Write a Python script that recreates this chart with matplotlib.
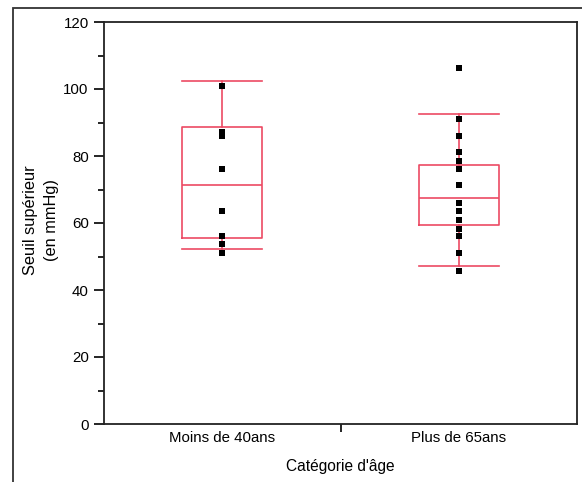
import matplotlib
matplotlib.use("Agg")
import matplotlib.pyplot as plt
from matplotlib.patches import Rectangle
from matplotlib.ticker import MultipleLocator, FixedLocator

plt.rcParams['font.family'] = ['Liberation Sans', 'DejaVu Sans']

categories = ["Moins de 40ans", "Plus de 65ans"]

# individual measurements (mmHg)
moins_40 = [101.0, 87.2, 86.0, 76.2, 63.6, 56.2, 53.6, 51.1]
plus_65 = [106.4, 91.0, 86.0, 81.2, 78.5, 76.2, 71.3, 66.0, 63.6,
           60.9, 58.3, 56.2, 51.1, 45.8]

# box statistics: lower whisker, Q1, median, Q3, upper whisker
whislo = [52.3, 47.2]
q1 = [55.4, 59.4]
med = [71.3, 67.4]
q3 = [88.6, 77.3]
whishi = [102.4, 92.5]

box_color = "#EC4A63"

fig = plt.figure(figsize=(5.82, 4.82), dpi=100)
ax = fig.add_axes([104 / 582, 58 / 482, 473 / 582, 402 / 482])

stats = []
for i in range(len(categories)):
    stats.append(dict(whislo=whislo[i], q1=q1[i], med=med[i], q3=q3[i],
                      whishi=whishi[i], fliers=[]))

line_kw = dict(color=box_color, linewidth=1.2)
ax.bxp(stats, positions=[1, 2], widths=0.34, showfliers=False,
       boxprops=line_kw, medianprops=line_kw, whiskerprops=line_kw,
       capprops=line_kw, capwidths=0.34)

for pos, vals in zip([1, 2], [moins_40, plus_65]):
    ax.scatter([pos] * len(vals), vals, marker='s', s=22, color='black',
               linewidths=0, zorder=3)

ax.set_xlim(0.5, 2.5)
ax.set_ylim(0, 120)

ax.yaxis.set_major_locator(MultipleLocator(20))
ax.yaxis.set_minor_locator(MultipleLocator(10))
ax.tick_params(axis='y', which='major', direction='out', length=7, width=1.2,
               labelsize=10.8, pad=4)
ax.tick_params(axis='y', which='minor', direction='out', length=4, width=1.2)

# tick mark between the groups, labels under each group
ax.xaxis.set_major_locator(FixedLocator([1.5]))
ax.set_xticklabels([""])
ax.xaxis.set_minor_locator(FixedLocator([1, 2]))
ax.set_xticklabels(categories, minor=True)
ax.tick_params(axis='x', which='major', direction='out', length=6, width=1.2)
ax.tick_params(axis='x', which='minor', length=0, labelsize=10.8, pad=5)

for sp in ax.spines.values():
    sp.set_linewidth(1.3)
    sp.set_color("#222222")

ax.set_xlabel("Catégorie d'âge", fontsize=11.2, labelpad=10)
fig.text(41 / 582, 1 - 220 / 482, "Seuil supérieur\n(en mmHg)", rotation=90,
         ha='center', va='center', fontsize=11.8, linespacing=1.45)

# outer frame
fig.patches.append(Rectangle((13 / 582, -0.1), 1.2, 1 - 8 / 482 + 0.1,
                             transform=fig.transFigure, fill=False,
                             edgecolor="#333333", linewidth=1.3))

fig.savefig("out.png", dpi=100)
